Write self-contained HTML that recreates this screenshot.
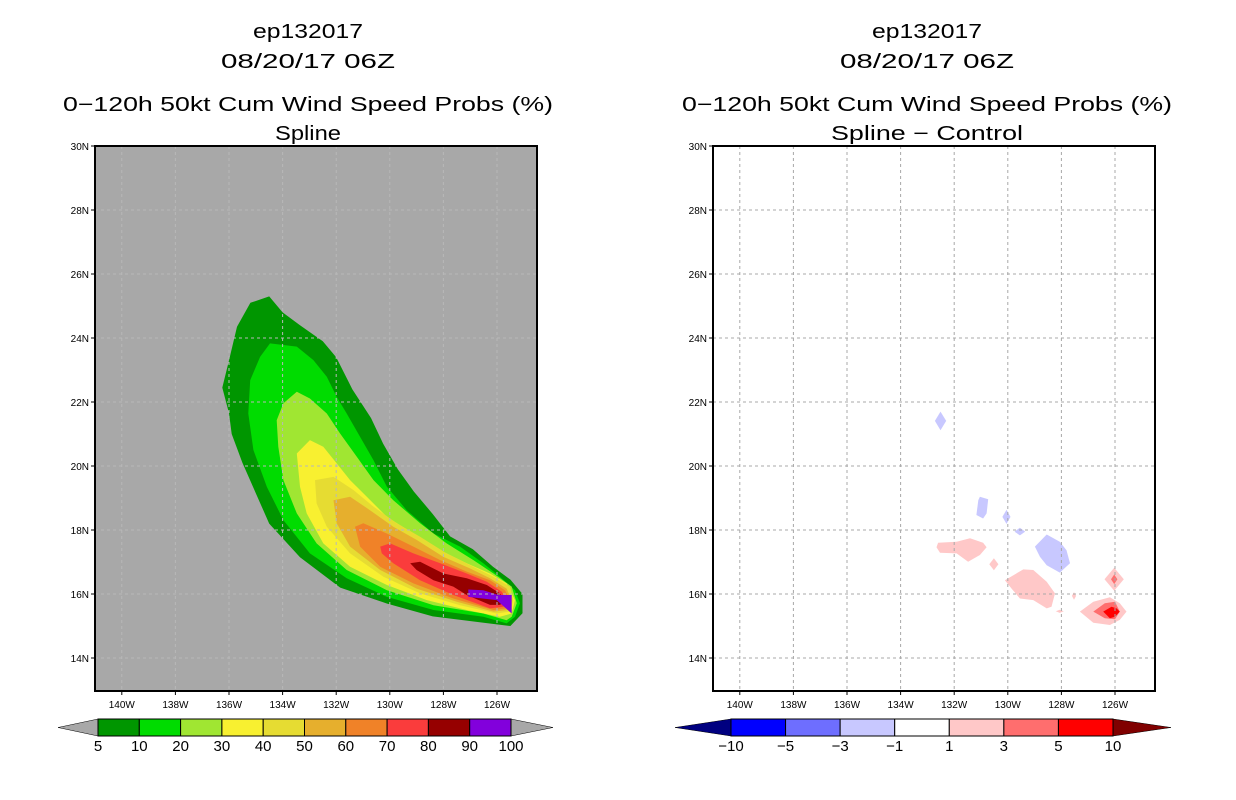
<!DOCTYPE html>
<html><head><meta charset="utf-8"><style>
body{margin:0;background:#fff;}
svg{display:block;font-family:"Liberation Sans",sans-serif;}
</style></head><body>
<svg id="s" width="1236" height="800" viewBox="0 0 1236 800">
<g font-size="20" text-anchor="middle" fill="#000">
<text x="308" y="38" textLength="110" lengthAdjust="spacingAndGlyphs">ep132017</text><text x="308" y="68" textLength="174" lengthAdjust="spacingAndGlyphs">08/20/17 06Z</text>
<text x="308" y="111" textLength="490" lengthAdjust="spacingAndGlyphs">0−120h 50kt Cum Wind Speed Probs (%)</text><text x="308" y="140" textLength="66" lengthAdjust="spacingAndGlyphs">Spline</text></g>
<g font-size="20" text-anchor="middle" fill="#000">
<text x="927" y="38" textLength="110" lengthAdjust="spacingAndGlyphs">ep132017</text><text x="927" y="68" textLength="174" lengthAdjust="spacingAndGlyphs">08/20/17 06Z</text>
<text x="927" y="111" textLength="490" lengthAdjust="spacingAndGlyphs">0−120h 50kt Cum Wind Speed Probs (%)</text><text x="927" y="140" textLength="192" lengthAdjust="spacingAndGlyphs">Spline − Control</text></g>
</svg>
<script>
const NS='http://www.w3.org/2000/svg';
const svg=document.getElementById('s');
const latTicks=[14,16,18,20,22,24,26,28,30];
const lonTicks=[140,138,136,134,132,130,128,126];
const probLevels=[5,10,20,30,40,50,60,70,80,90,100];
const probColors=['#009600','#00dc00','#a0e632','#f8f030','#e6dc32','#e6af2d','#f08228','#fa3c3c','#960000','#8200dc'];
const diffLevels=[-10,-5,-3,-1,1,3,5,10];
const diffColors=['#0000ff','#6e6eff','#c8c8ff','#ffffff','#ffc8c8','#ff6e6e','#ff0000'];
const p05=[[134.5,25.3],[134.0,24.8],[133.35,24.4],[132.5,23.9],[132.0,23.4],[131.4,22.4],[130.7,21.5],[130.25,20.7],[129.7,19.9],[129.1,19.2],[128.4,18.5],[127.75,17.8],[126.9,17.4],[126.15,16.85],[125.5,16.45],[125.05,16.0],[125.05,15.4],[125.5,15.0],[126.5,15.1],[128.4,15.3],[130.1,15.7],[131.85,16.2],[133.35,17.15],[134.5,18.2],[135.0,19.15],[135.5,20.1],[135.9,21.0],[136.0,21.65],[136.25,22.45],[136.0,23.3],[135.7,24.35],[135.2,25.1]];
const p10=[[134.47,23.83],[133.47,23.73],[132.85,23.31],[132.35,22.79],[131.98,22.16],[131.61,21.64],[131.11,20.91],[130.61,20.18],[130.11,19.35],[129.37,18.62],[128.37,17.89],[127.38,17.48],[126.51,16.96],[125.89,16.54],[125.33,16.12],[125.14,15.71],[125.33,15.29],[125.64,15.08],[126.51,15.29],[128.37,15.5],[130.11,15.91],[131.61,16.49],[132.98,17.27],[133.97,18.31],[134.59,19.35],[135.09,20.5],[135.28,21.64],[135.21,22.68],[134.84,23.41]];
const p20=[[133.47,22.32],[132.98,22.11],[132.35,21.64],[131.86,21.02],[131.23,20.29],[130.61,19.56],[129.87,18.93],[128.87,18.21],[127.88,17.58],[126.88,17.06],[126.13,16.64],[125.45,16.23],[125.26,15.71],[125.45,15.29],[125.64,15.18],[126.51,15.39],[128.37,15.65],[130.11,16.12],[131.61,16.75],[132.73,17.58],[133.47,18.52],[133.97,19.56],[134.16,20.6],[134.22,21.43],[133.97,21.96]];
const p30=[[132.98,20.81],[132.48,20.6],[131.98,20.08],[131.48,19.56],[130.86,19.04],[130.11,18.41],[129.12,17.89],[128.12,17.37],[127.13,16.96],[126.26,16.64],[125.64,16.33],[125.33,15.81],[125.45,15.39],[125.89,15.29],[127.13,15.5],[128.62,15.81],[130.11,16.28],[131.48,16.85],[132.48,17.58],[133.1,18.52],[133.35,19.35],[133.47,20.39]];
const p40=[[132.79,19.56],[132.1,19.66],[131.36,19.25],[130.61,18.73],[129.74,18.21],[128.87,17.79],[127.88,17.27],[126.88,16.85],[126.13,16.54],[125.51,16.23],[125.39,15.81],[125.51,15.45],[126.01,15.39],[127.38,15.65],[128.87,16.02],[130.24,16.54],[131.48,17.27],[132.35,18.1],[132.73,18.83]];
const p50=[[132.1,18.93],[131.48,19.04],[130.74,18.62],[129.87,18.1],[129.0,17.69],[128.0,17.16],[127.01,16.8],[126.26,16.49],[125.64,16.17],[125.45,15.81],[125.58,15.5],[126.13,15.45],[127.5,15.76],[129.0,16.17],[130.36,16.75],[131.48,17.48],[131.98,18.21]];
const p60=[[131.3,18.1],[130.99,18.21],[130.11,17.89],[129.12,17.48],[128.12,17.06],[127.13,16.7],[126.26,16.43],[125.7,16.12],[125.51,15.81],[125.64,15.55],[126.13,15.5],[127.63,15.86],[129.12,16.33],[130.36,16.85],[131.11,17.48]];
const p70=[[130.36,17.48],[129.99,17.58],[129.12,17.27],[128.12,16.96],[127.13,16.64],[126.38,16.38],[125.82,16.07],[125.64,15.81],[125.76,15.6],[126.26,15.55],[127.63,15.97],[128.87,16.43],[129.87,16.96],[130.3,17.27]];
const p80=[[129.24,16.96],[128.87,17.01],[128.5,16.85],[128.0,16.64],[127.13,16.49],[126.38,16.28],[125.89,16.02],[125.7,15.76],[125.89,15.66],[126.26,15.66],[127.13,15.97],[127.63,16.23],[128.37,16.43],[129.0,16.75]];
const p90=[[127.07,16.14],[126.51,16.12],[125.95,15.97],[125.45,15.97],[125.45,15.39],[126.01,15.81],[127.07,15.91]];
const probPolys=[p05,p10,p20,p30,p40,p50,p60,p70,p80,p90];
const dBlue1=[[132.51,21.70],[132.30,21.41],[132.51,21.12],[132.72,21.41]];
const dBlue2=[[131.04,19.04],[130.73,18.96],[130.79,18.52],[130.92,18.36],[131.17,18.47],[131.1,18.93]];
const dBlue3=[[130.05,18.63],[129.90,18.41],[130.05,18.19],[130.20,18.41]];
const dBlue4=[[129.55,18.07],[129.35,17.95],[129.55,17.83],[129.75,17.95]];
const dBlue5=[[128.55,17.86],[128.06,17.63],[127.81,17.37],[127.68,16.96],[128.06,16.67],[128.55,16.9],[128.8,17.16],[128.99,17.48]];
const dPinkA=[[132.6,17.6],[131.91,17.63],[131.41,17.74],[130.92,17.6],[130.79,17.46],[131.04,17.22],[131.48,17.01],[131.91,17.27],[132.53,17.29],[132.66,17.46]];
const dPinkB=[[130.52,17.12],[130.35,16.93],[130.52,16.74],[130.69,16.93]];
const dPinkC=[[130.11,16.43],[129.42,16.77],[129.05,16.75],[128.55,16.38],[128.24,16.02],[128.37,15.6],[128.55,15.55],[129.05,15.81],[129.55,15.86],[129.86,16.17]];
const dPinkD=[[127.53,16.06],[127.45,15.94],[127.53,15.82],[127.61,15.94]];
const dPinkE=[[128.06,15.51],[127.91,15.46],[128.06,15.41],[128.21,15.46]];
const dPinkF=[[126.03,16.82],[125.67,16.46],[126.03,16.10],[126.39,16.46]];
const dMedF=[[126.03,16.61],[125.91,16.46],[126.03,16.31],[126.15,16.46]];
const dPinkG=[[127.31,15.45],[126.81,15.76],[126.19,15.9],[125.82,15.71],[125.57,15.45],[125.82,15.19],[126.19,15.03],[126.81,15.1]];
const dMedG=[[126.81,15.45],[126.38,15.71],[126.0,15.76],[125.82,15.45],[126.0,15.21],[126.38,15.24]];
const dRedG=[[126.44,15.45],[126.13,15.6],[125.94,15.55],[125.82,15.45],[126.0,15.29],[126.19,15.24]];
const diffBlobs=[[2,dBlue1],[2,dBlue2],[2,dBlue3],[2,dBlue4],[2,dBlue5],[4,dPinkA],[4,dPinkB],[4,dPinkC],[4,dPinkD],[4,dPinkE],[4,dPinkF],[5,dMedF],[4,dPinkG],[5,dMedG],[6,dRedG]];

function el(t,a,p){const e=document.createElementNS(NS,t);for(const k in a)e.setAttribute(k,a[k]);(p||svg).appendChild(e);return e;}
const X0=[95,713],Y0=146,W=442,H=545;
function xs(p,lonW){return X0[p]+(141-lonW)*26.8;}
function ys(lat){return Y0+(30-lat)*32;}
function pts(p,poly){return poly.map(q=>xs(p,q[0]).toFixed(1)+','+ys(q[1]).toFixed(1)).join(' ');}

function panel(p,bg){
  const g=el('g',{});
  
  
  const r=el('rect',{x:X0[p],y:Y0,width:W,height:H,fill:bg},g);
  
  
  return g;
}
function grid(p,g){
  const gc=p?'#a8a8a8':'#b8b8b8';
  lonTicks.forEach(l=>{const x=xs(p,l);
    const ln=el('line',{x1:x,y1:Y0,x2:x,y2:Y0+H,stroke:gc,'stroke-width':1,'stroke-dasharray':'3,3'},g);
    
    el('line',{x1:x,y1:Y0+H,x2:x,y2:Y0+H+4,stroke:'#000'},g);
    const tx=el('text',{x:x,y:Y0+H+17,'font-size':10,'text-anchor':'middle'},g);tx.textContent=l+'W';
    });
  latTicks.forEach(l=>{const y=ys(l);
    if(l<30){const ln=el('line',{x1:X0[p],y1:y,x2:X0[p]+W,y2:y,stroke:gc,'stroke-width':1,'stroke-dasharray':'3,3'},g);
    }
    el('line',{x1:X0[p]-4,y1:y,x2:X0[p],y2:y,stroke:'#000'},g);
    const tx=el('text',{x:X0[p]-6,y:y+4,'font-size':10,'text-anchor':'end'},g);tx.textContent=l+'N';
    });
  const f=el('rect',{x:X0[p],y:Y0,width:W,height:H,fill:'none',stroke:'#000','stroke-width':2},g);
  
}
const gL=panel(0,'#a8a8a8');
probPolys.forEach((poly,i)=>{const e=el('polygon',{points:pts(0,poly),fill:probColors[i]},gL);
  
  });
grid(0,gL);
const gR=panel(1,'#ffffff');
diffBlobs.forEach(b=>{const e=el('polygon',{points:pts(1,b[1]),fill:diffColors[b[0]]},gR);
  
  });
grid(1,gR);

function colorbar(x0,x1,y0,h,colors,labels,triL,triR,colL,colR,name){
  const g=el('g',{});
  
  
  const n=colors.length,w=(x1-x0)/n,ym=y0+h/2;
  el('polygon',{points:`${x0},${y0} ${x0-triL},${ym} ${x0},${y0+h}`,fill:colL,stroke:'#000','stroke-width':0.5},g);
  el('polygon',{points:`${x1},${y0} ${x1+triR},${ym} ${x1},${y0+h}`,fill:colR,stroke:'#000','stroke-width':0.5},g);
  colors.forEach((c,i)=>{const r=el('rect',{x:x0+i*w,y:y0,width:w,height:h,fill:c,stroke:'#000','stroke-width':1},g);
    });
  labels.forEach((l,i)=>{const t=el('text',{x:x0+i*w,y:y0+h+15,'font-size':15,'text-anchor':'middle'},g);
    t.textContent=String(l).replace('-','−');
    });
}
colorbar(98,511,719,17,probColors,probLevels,40,42,'#a8a8a8','#a8a8a8','left-colorbar');
colorbar(731,1113,719,17,diffColors,diffLevels,56,58,'#000080','#800000','right-colorbar');
</script>
</body></html>
